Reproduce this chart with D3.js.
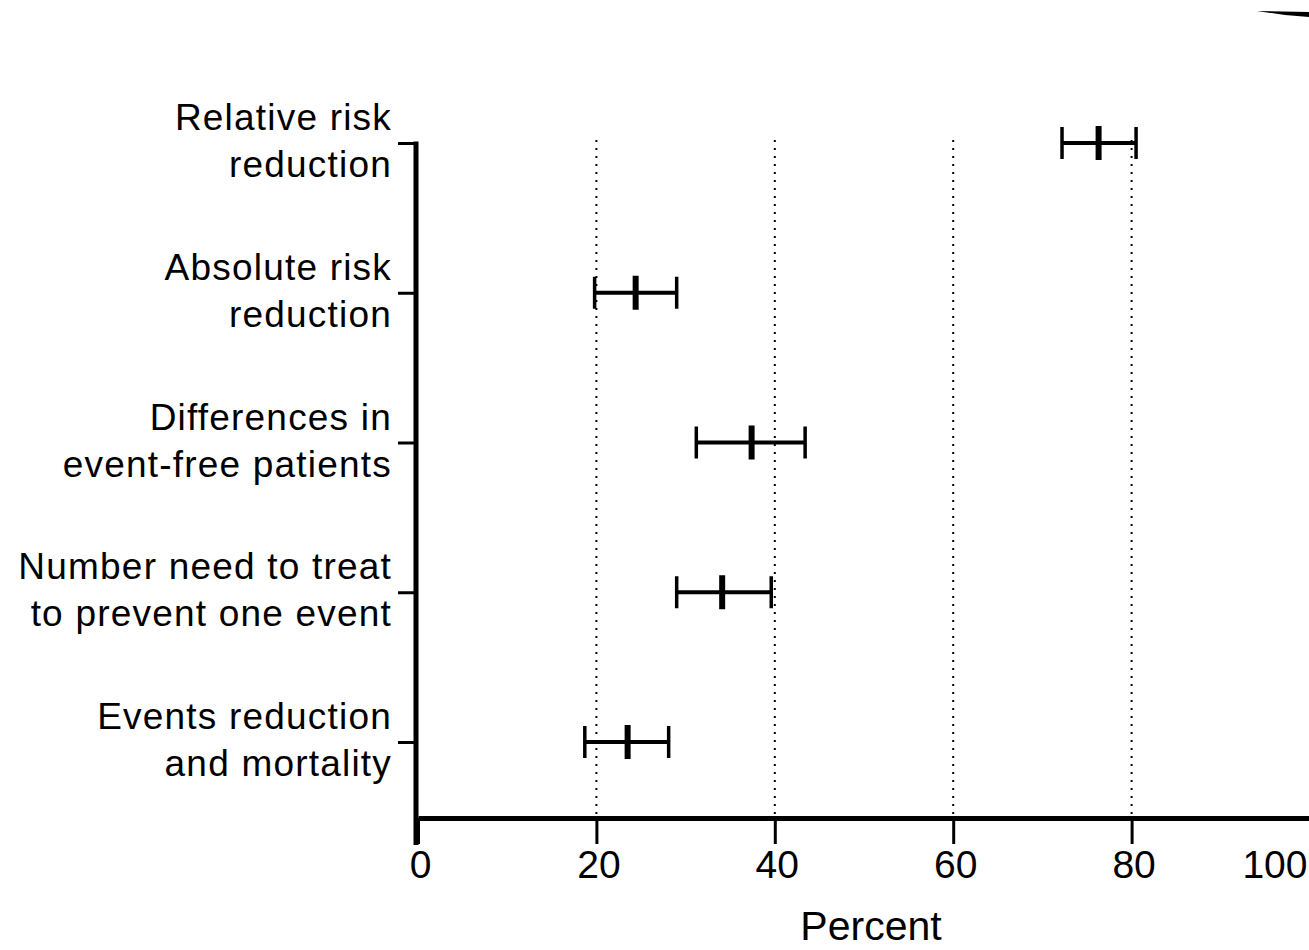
<html>
<head>
<style type="text/css">
	body { margin: 0; background: white; }
	.chart text { fill: black; font-family: "Liberation Sans", Arial, sans-serif; }
</style>
</head>
<body>
<svg class="chart" width=1309 height=950></svg>

<script src='https://d3js.org/d3.v7.min.js'></script>
<script>
// chart values
var labelsTop = ["Relative risk", "Absolute risk", "Differences in", "Number need to treat", "Events reduction"];
var labelsBottom = ["reduction", "reduction", "event-free patients", "to prevent one event", "and mortality"];
var lowValues = [72.2, 19.8, 31.2, 29.0, 18.7];
var pointValues = [76.3, 24.4, 37.4, 34.1, 23.5];
var highValues = [80.5, 29.0, 43.4, 39.6, 28.1];
var xTicks = [0, 20, 40, 60, 80, 100];
var xTitle = "Percent";

var svg = d3.select("svg");

//Define Scales
var xScale = d3.scaleLinear()
	.domain([0, 100])
	.range([418, 1310]);

var yScale = d3.scalePoint()
	.domain(labelsTop)
	.range([143, 742]);

//dotted grid lines
svg.append("g")
	.selectAll("line")
	.data(xTicks.filter(function(d) { return d > 0; }))
	.enter()
	.append("line")
	.attr("x1", function(d) { return xScale(d); })
	.attr("x2", function(d) { return xScale(d); })
	.attr("y1", 140)
	.attr("y2", 816)
	.attr("stroke", "black")
	.attr("stroke-width", 2)
	.attr("stroke-dasharray", "2,6");

//x axis
var xAxis = svg.append("g")
	.attr("transform", "translate(0,818)")
	.call(d3.axisBottom(xScale)
		.tickValues(xTicks)
		.tickSize(26)
		.tickSizeOuter(0)
		.tickPadding(6));
xAxis.select(".domain").attr("stroke", "black").attr("stroke-width", 5);
xAxis.selectAll(".tick line").attr("stroke", "black").attr("stroke-width", 3);
xAxis.selectAll(".tick text")
	.attr("font-size", "39px")
	.attr("fill", "black")
	.style("font-family", '"Liberation Sans", Arial, sans-serif')
	.attr("text-anchor", function(d) { return d == 100 ? "end" : "middle"; })
	.attr("dx", function(d) { return d == 100 ? -3 : 2; });

//y axis
var yAxis = svg.append("g")
	.attr("transform", "translate(416,0)")
	.call(d3.axisLeft(yScale)
		.tickSize(18)
		.tickSizeOuter(0)
		.tickFormat(""));
yAxis.select(".domain").remove();
yAxis.selectAll(".tick line").attr("stroke", "black").attr("stroke-width", 3);
yAxis.append("line")
	.attr("x1", 0).attr("x2", 0)
	.attr("y1", yScale(labelsTop[0]) - 1.5)
	.attr("y2", 845)
	.attr("stroke", "black")
	.attr("stroke-width", 5);

//category labels
var labels = svg.append("g")
	.selectAll("text")
	.data(labelsTop)
	.enter()
	.append("text")
	.attr("text-anchor", "end")
	.attr("font-size", "37px")
	.attr("letter-spacing", "1.2px")
	.attr("transform", function(d) { return "translate(392," + yScale(d) + ")"; });
labels.append("tspan")
	.attr("x", 0)
	.attr("y", -13)
	.text(function(d) { return d; });
labels.append("tspan")
	.attr("x", 0)
	.attr("y", 34)
	.text(function(d, i) { return labelsBottom[i]; });

//error bars
var bars = svg.append("g")
	.selectAll("g")
	.data(labelsTop)
	.enter()
	.append("g")
	.attr("transform", function(d) { return "translate(0," + yScale(d) + ")"; });
bars.append("line")
	.attr("x1", function(d, i) { return xScale(lowValues[i]); })
	.attr("x2", function(d, i) { return xScale(highValues[i]); })
	.attr("stroke", "black")
	.attr("stroke-width", 4);
bars.append("line")
	.attr("x1", function(d, i) { return xScale(lowValues[i]); })
	.attr("x2", function(d, i) { return xScale(lowValues[i]); })
	.attr("y1", -16).attr("y2", 16)
	.attr("stroke", "black")
	.attr("stroke-width", 3.5);
bars.append("line")
	.attr("x1", function(d, i) { return xScale(highValues[i]); })
	.attr("x2", function(d, i) { return xScale(highValues[i]); })
	.attr("y1", -16).attr("y2", 16)
	.attr("stroke", "black")
	.attr("stroke-width", 3.5);
bars.append("line")
	.attr("x1", function(d, i) { return xScale(pointValues[i]); })
	.attr("x2", function(d, i) { return xScale(pointValues[i]); })
	.attr("y1", -17).attr("y2", 17)
	.attr("stroke", "black")
	.attr("stroke-width", 6);

//axis title
svg.append("text")
	.attr("x", 871)
	.attr("y", 940)
	.attr("text-anchor", "middle")
	.attr("font-size", "41px")
	.text(xTitle);

//scan mark at top right
svg.append("path")
	.attr("d", "M1257,11 L1309,12 L1309,17 L1285,15 Z")
	.attr("fill", "black");
</script>
</body>
</html>
